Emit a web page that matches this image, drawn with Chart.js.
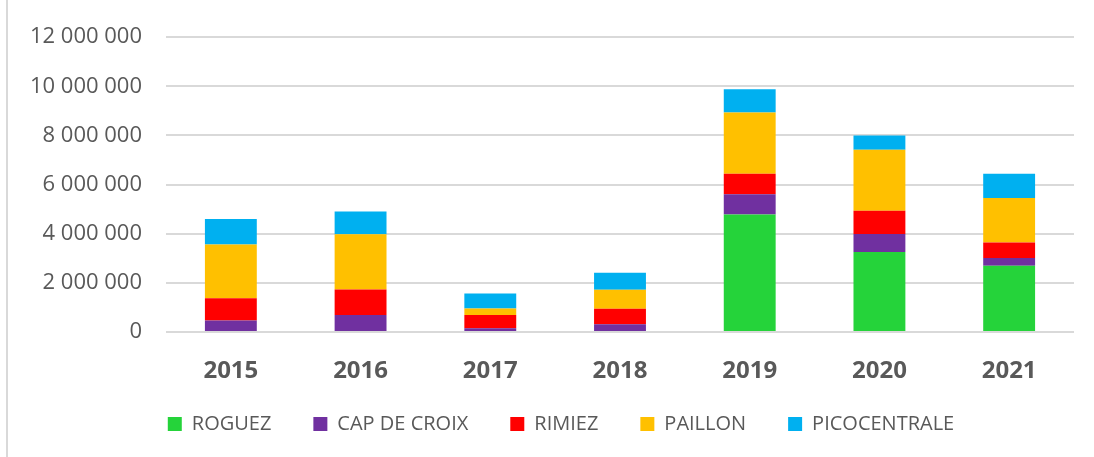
<!DOCTYPE html>
<html>
<head>
<meta charset="utf-8">
<script src="https://cdn.jsdelivr.net/npm/chart.js@4/dist/chart.umd.min.js"></script>
<style>
  html, body { margin: 0; padding: 0; background: #fff; }
  #wrap { position: relative; width: 1094px; height: 457px; }
  #edge { position: absolute; left: 6px; top: 0; width: 2px; height: 457px; background: #d9d9d9; }
  canvas { position: absolute; left: 0; top: 0; }
</style>
</head>
<body>
<div id="wrap">
  <div id="edge"></div>
  <canvas id="chart" width="1094" height="457"></canvas>
</div>
<script>
// years on the x axis
const years = ['2015', '2016', '2017', '2018', '2019', '2020', '2021'];

// values per site
const roguez       = [0, 0, 0, 0, 4780000, 3260000, 2700000];
const capDeCroix   = [470000, 690000, 150000, 320000, 830000, 730000, 310000];
const rimiez       = [900000, 1040000, 540000, 630000, 830000, 950000, 630000];
const paillon      = [2190000, 2250000, 270000, 770000, 2490000, 2480000, 1810000];
const picocentrale = [1040000, 930000, 610000, 690000, 950000, 580000, 990000];

const yTicks = [0, 2000000, 4000000, 6000000, 8000000, 10000000, 12000000];

const TEXT = '#595959';
const FONT = "'Open Sans', sans-serif";

function spaced(v) {
  return String(v).replace(/\B(?=(\d{3})+(?!\d))/g, ' ');
}

// the legend sits a bit higher and right of where chart.js puts it
const legendShift = {
  id: 'legendShift',
  afterLayout(chart) {
    const l = chart.legend;
    if (!l) return;
    l.top -= 13; l.bottom -= 13;
    l.left += 10; l.right += 10;
  }
};

const ctx = document.getElementById('chart').getContext('2d');
new Chart(ctx, {
  type: 'bar',
  data: {
    labels: years,
    datasets: [
      { label: 'ROGUEZ', data: roguez, backgroundColor: '#25D33A' },
      { label: 'CAP DE CROIX', data: capDeCroix, backgroundColor: '#7030A0' },
      { label: 'RIMIEZ', data: rimiez, backgroundColor: '#FF0000' },
      { label: 'PAILLON', data: paillon, backgroundColor: '#FFC000' },
      { label: 'PICOCENTRALE', data: picocentrale, backgroundColor: '#00B0F0' }
    ]
  },
  plugins: [legendShift],
  options: {
    responsive: false,
    animation: false,
    layout: { padding: { left: 28, right: 20, top: 37, bottom: 0 } },
    datasets: { bar: { barPercentage: 0.4, categoryPercentage: 1 } },
    plugins: {
      tooltip: { enabled: false },
      legend: {
        position: 'bottom',
        labels: {
          color: TEXT,
          font: { family: FONT, size: 20 },
          boxWidth: 14,
          boxHeight: 14,
          padding: 42
        }
      }
    },
    scales: {
      x: {
        stacked: true,
        grid: { display: false },
        border: { display: false },
        ticks: { color: TEXT, font: { family: FONT, size: 24, weight: 'bold' }, padding: 17 },
        afterFit: (scale) => { scale.height = 53; }
      },
      y: {
        stacked: true,
        min: 0,
        max: 12000000,
        afterBuildTicks: (scale) => { scale.ticks = yTicks.map(v => ({ value: v })); },
        grid: { color: '#d9d9d9', lineWidth: 2, drawTicks: false },
        border: { display: false },
        ticks: {
          color: TEXT,
          font: { family: FONT, size: 22 },
          padding: 24,
          callback: (v) => spaced(v)
        },
        afterFit: (scale) => { scale.width = 138; }
      }
    }
  }
});
</script>
</body>
</html>
